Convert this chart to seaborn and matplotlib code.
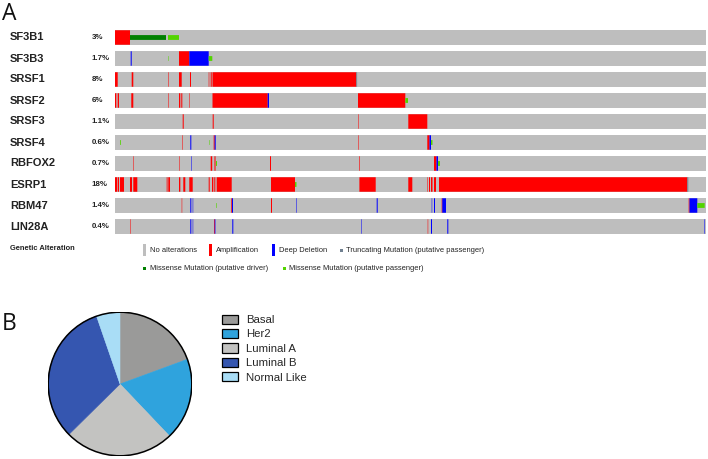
import matplotlib
matplotlib.use("Agg")
import matplotlib.pyplot as plt
import seaborn as sns
import numpy as np
import pandas as pd
from matplotlib.patches import Rectangle, Patch, Circle
from matplotlib.transforms import blended_transform_factory

# ---------------- data ----------------
genes = ["SF3B1", "SF3B3", "SRSF1", "SRSF2", "SRSF3", "SRSF4", "RBFOX2", "ESRP1", "RBM47", "LIN28A"]
pct_labels = ["3%", "1.7%", "8%", "6%", "1.1%", "0.6%", "0.7%", "18%", "1.4%", "0.4%"]
N_SAMPLES = 591

# (gene, first sample, number of samples)
AMPLIFICATION = [
    ("SF3B1", 0, 15),
    ("SF3B3", 64, 10.3),
    ("SRSF1", 0, 2.7), ("SRSF1", 16.7, 1.6), ("SRSF1", 53.3, 0.5), ("SRSF1", 64, 2.7),
    ("SRSF1", 75, 1), ("SRSF1", 93.7, 0.6), ("SRSF1", 95.7, 1), ("SRSF1", 97.5, 143.8),
    ("SRSF2", 0, 1.3), ("SRSF2", 2.7, 1.3), ("SRSF2", 16.3, 2), ("SRSF2", 53.3, 0.5),
    ("SRSF2", 64, 1.3), ("SRSF2", 66.3, 1), ("SRSF2", 74.3, 0.5), ("SRSF2", 97.5, 55.2),
    ("SRSF2", 243, 47.3),
    ("SRSF3", 67.7, 1), ("SRSF3", 97.7, 1), ("SRSF3", 243.3, 0.5), ("SRSF3", 293.3, 19),
    ("SRSF4", 67.3, 0.5), ("SRSF4", 98.7, 1), ("SRSF4", 243.3, 0.5), ("SRSF4", 312.3, 2.2),
    ("RBFOX2", 18, 0.5), ("RBFOX2", 64.3, 0.5), ("RBFOX2", 95.7, 1.5), ("RBFOX2", 99.5, 1),
    ("RBFOX2", 155, 1), ("RBFOX2", 244, 0.6), ("RBFOX2", 319, 2.5),
    ("ESRP1", 0, 2), ("ESRP1", 2.7, 1.3), ("ESRP1", 5, 4), ("ESRP1", 15, 2), ("ESRP1", 18.3, 4),
    ("ESRP1", 51.7, 0.8), ("ESRP1", 53.3, 1.7), ("ESRP1", 64, 1.3), ("ESRP1", 68.3, 2),
    ("ESRP1", 74.3, 3.4), ("ESRP1", 93.7, 1), ("ESRP1", 97, 1.3), ("ESRP1", 99.3, 1),
    ("ESRP1", 101.7, 15), ("ESRP1", 156, 24), ("ESRP1", 244, 0.6), ("ESRP1", 245, 15.7),
    ("ESRP1", 293.3, 4), ("ESRP1", 312.3, 0.5), ("ESRP1", 314, 1), ("ESRP1", 316, 1.5),
    ("ESRP1", 319, 2), ("ESRP1", 324, 248.3),
    ("RBM47", 66.7, 0.5), ("RBM47", 116.3, 0.8), ("RBM47", 156, 1), ("RBM47", 326.7, 0.8),
    ("RBM47", 573.7, 0.8),
    ("LIN28A", 15, 0.5), ("LIN28A", 99, 0.8), ("LIN28A", 312.7, 0.5),
]
DEEP_DELETION = [
    ("SF3B3", 15.7, 1), ("SF3B3", 74.3, 19.4),
    ("SRSF2", 152.7, 1.3),
    ("SRSF4", 75.3, 1), ("SRSF4", 99.7, 1), ("SRSF4", 314.5, 1.5),
    ("RBFOX2", 76, 0.5), ("RBFOX2", 321.5, 1.5),
    ("RBM47", 75.3, 1), ("RBM47", 77.7, 0.5), ("RBM47", 117, 1), ("RBM47", 181.3, 0.5),
    ("RBM47", 261.7, 1), ("RBM47", 316.7, 0.5), ("RBM47", 319, 1), ("RBM47", 327.3, 3.7),
    ("RBM47", 574.5, 7.8),
    ("LIN28A", 75.3, 1), ("LIN28A", 77.7, 0.5), ("LIN28A", 99.7, 0.7), ("LIN28A", 117.3, 1),
    ("LIN28A", 246, 0.5), ("LIN28A", 316, 1), ("LIN28A", 332.3, 1), ("LIN28A", 589, 0.5),
]
MISSENSE_PASSENGER = [
    ("SF3B1", 53, 11),
    ("SF3B3", 53.3, 0.5), ("SF3B3", 93.7, 3.6),
    ("SRSF2", 290.3, 2.7),
    ("SRSF4", 5, 0.8), ("SRSF4", 94.3, 0.5), ("SRSF4", 316, 1.5),
    ("RBFOX2", 101, 1), ("RBFOX2", 323, 2),
    ("ESRP1", 180, 1.5),
    ("RBM47", 101, 0.6), ("RBM47", 582.3, 7.4),
]
MISSENSE_DRIVER = [("SF3B1", 15, 36)]
TRUNCATING_PASSENGER = [("SRSF1", 241.3, 0.8), ("ESRP1", 572.3, 1)]

subtypes = ["Basal", "Her2", "Luminal A", "Luminal B", "Normal Like"]
subtype_pct = [19.4, 18.5, 24.7, 32.1, 5.3]

# ---------------- style ----------------
GRAY = "#bebebe"
RED = "#ff0000"
BLUE = "#0000ff"
DKGREEN = "#008000"
LTGREEN = "#53d400"
SLATE = "#708090"
pie_colors = ["#9a9a99", "#2fa3dd", "#c3c3c1", "#3556b0", "#a9ddf6"]

sns.set_theme(style="white")
plt.rcParams["font.family"] = ["Liberation Sans", "DejaVu Sans"]
TXT = "#222222"

W, H = 708, 459
fig = plt.figure(figsize=(W / 100, H / 100), dpi=100)

# pixel-coordinate overlay axes for annotations
axp = fig.add_axes([0, 0, 1, 1])
axp.set_xlim(0, W)
axp.set_ylim(H, 0)
axp.axis("off")
axp.patch.set_alpha(0)

# ---------------- Oncoprint ----------------
x0, x1 = 115, 706
ytop, ybot = 27, 237
ax = fig.add_axes([x0 / W, 1 - ybot / H, (x1 - x0) / W, (ybot - ytop) / H])
bg = pd.DataFrame({"gene": genes, "n": [N_SAMPLES] * len(genes)})
sns.barplot(data=bg, x="n", y="gene", orient="h", color=GRAY, saturation=1,
            width=0.69, linewidth=0, ax=ax)

gidx = {g: i for i, g in enumerate(genes)}

def draw(events, color, height):
    ys = [gidx[g] for g, s, w in events]
    lefts = [s for g, s, w in events]
    widths = [w for g, s, w in events]
    bars = ax.barh(ys, widths, left=lefts, height=height, color=color, linewidth=0)
    for b in bars:
        b.set_snap(False)

draw(AMPLIFICATION, RED, 0.69)
draw(DEEP_DELETION, BLUE, 0.69)
draw(MISSENSE_DRIVER, DKGREEN, 0.23)
draw(MISSENSE_PASSENGER, LTGREEN, 0.23)
draw(TRUNCATING_PASSENGER, SLATE, 0.69)

ax.set_xlim(0, N_SAMPLES)
ax.set_ylim(len(genes) - 0.5, -0.5)
tr = blended_transform_factory(ax.transAxes, ax.transData)
for i, (g, p) in enumerate(zip(genes, pct_labels)):
    ax.text((10 - x0) / (x1 - x0), i, g, transform=tr, ha="left", va="center",
            fontsize=8, fontweight="bold", color=TXT)
    ax.text((91.5 - x0) / (x1 - x0), i, p, transform=tr, ha="left", va="center",
            fontsize=5.7, fontweight="bold", color=TXT)
ax.axis("off")

# Genetic alteration legend
axp.text(10, 249, "Genetic Alteration", fontsize=5.4, fontweight="bold", color=TXT,
         ha="left", va="center")
leg_row1 = [("No alterations", GRAY, 143.3), ("Amplification", RED, 209.3),
            ("Deep Deletion", BLUE, 272.3)]
for lab, c, x in leg_row1:
    axp.add_patch(Rectangle((x, 244), 2.7, 12, color=c, lw=0))
    axp.text(x + 6.8, 250.5, lab, fontsize=5.4, color=TXT, ha="left", va="center")
leg_sq = [("Truncating Mutation (putative passenger)", SLATE, 340, 250.5),
          ("Missense Mutation (putative driver)", DKGREEN, 143.3, 268.7),
          ("Missense Mutation (putative passenger)", LTGREEN, 282.7, 268.7)]
for lab, c, x, y in leg_sq:
    axp.add_patch(Rectangle((x, y - 1.5), 3, 3, color=c, lw=0))
    axp.text(x + 6.5, y, lab, fontsize=5.4, color=TXT, ha="left", va="center")

# panel letters
axp.text(2, 20, "A", fontsize=16.5, family=["Open Sans", "DejaVu Sans"],
         color="#111111", ha="left", va="baseline")
axp.text(2, 329.5, "B", fontsize=16.5, family=["Open Sans", "DejaVu Sans"],
         color="#111111", ha="left", va="baseline")

# ---------------- Pie ----------------
cx, cy, r = 120, 384, 72.5
axpie = fig.add_axes([(cx - r) / W, 1 - (cy + r) / H, 2 * r / W, 2 * r / H])
wedges, _ = axpie.pie(subtype_pct, colors=pie_colors, startangle=90, counterclock=False,
                      radius=1, wedgeprops=dict(linewidth=0.4))
for w in wedges:
    w.set_edgecolor(w.get_facecolor())
axpie.add_patch(Circle((0, 0), 1, fill=False, edgecolor="black", linewidth=1.1))
axpie.set_xlim(-1.01, 1.01)
axpie.set_ylim(-1.01, 1.01)
axpie.set_aspect("equal")
axpie.axis("off")

handles = [Patch(facecolor=c, edgecolor="black", linewidth=0.9, label=l)
           for c, l in zip(pie_colors, subtypes)]
fig.legend(handles=handles, loc="upper left", bbox_to_anchor=(222 / W, 1 - 314.5 / H),
           frameon=False, fontsize=8.2, handlelength=1.4, handleheight=0.85,
           handletextpad=0.75, labelspacing=0.35, borderpad=0, borderaxespad=0)

fig.savefig("out.png", dpi=100, facecolor="white")
